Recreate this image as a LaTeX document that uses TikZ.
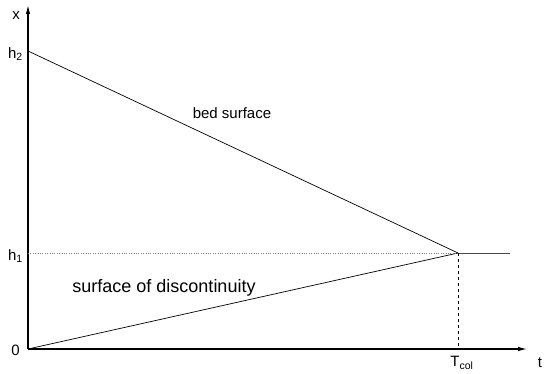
\documentclass[tikz,border=0pt]{standalone}
\usepackage{fontspec}
\setmainfont{Liberation Sans}
\usetikzlibrary{arrows.meta}

\begin{document}
\begin{tikzpicture}[x=1pt,y=1pt,every node/.style={font=\fontsize{15}{18}\selectfont,inner sep=1pt},axis/.style={line width=1.1pt,-{Latex[length=9pt,width=4.5pt]}},surf/.style={line width=0.7pt},lbl/.style={anchor=east}]
\useasboundingbox (0,0) rectangle (545,373);
\coordinate (o) at (28,24);
\coordinate (xend) at (527,24);
\coordinate (ytop) at (28,368);
\coordinate (h2) at (28,322);
\coordinate (h1) at (28,120);
\coordinate (col) at (458,120);
\coordinate (tail) at (510,120);
\coordinate (tcol) at (458,24);

\draw[axis] (o) -- (xend);
\draw[axis] (o) -- (ytop);
\draw[surf] (h2) -- (col);
\draw[surf] (o) -- (col);
\draw[surf,black!70] (col) -- (tail);
\draw[dotted,black!50] (h1) -- (col);
\draw[dashed,line width=0.8pt] (col) -- (tcol);

\node[lbl] (xlab) at (21,357) {x};
\node[lbl] (h2lab) at (24,319) {h\textsubscript{2}};
\node[lbl] (h1lab) at (24,117) {h\textsubscript{1}};
\node[lbl] (olab) at (21,23) {0};
\node (tcollab) at (462,10) {T\textsubscript{col}};
\node (tlab) at (540,10) {t};
\node (bed) at (232,260) {\fontsize{15}{18}\selectfont bed surface};
\node (disc) at (164,85) {\fontsize{18}{22}\selectfont surface of discontinuity};
\end{tikzpicture}
\end{document}
